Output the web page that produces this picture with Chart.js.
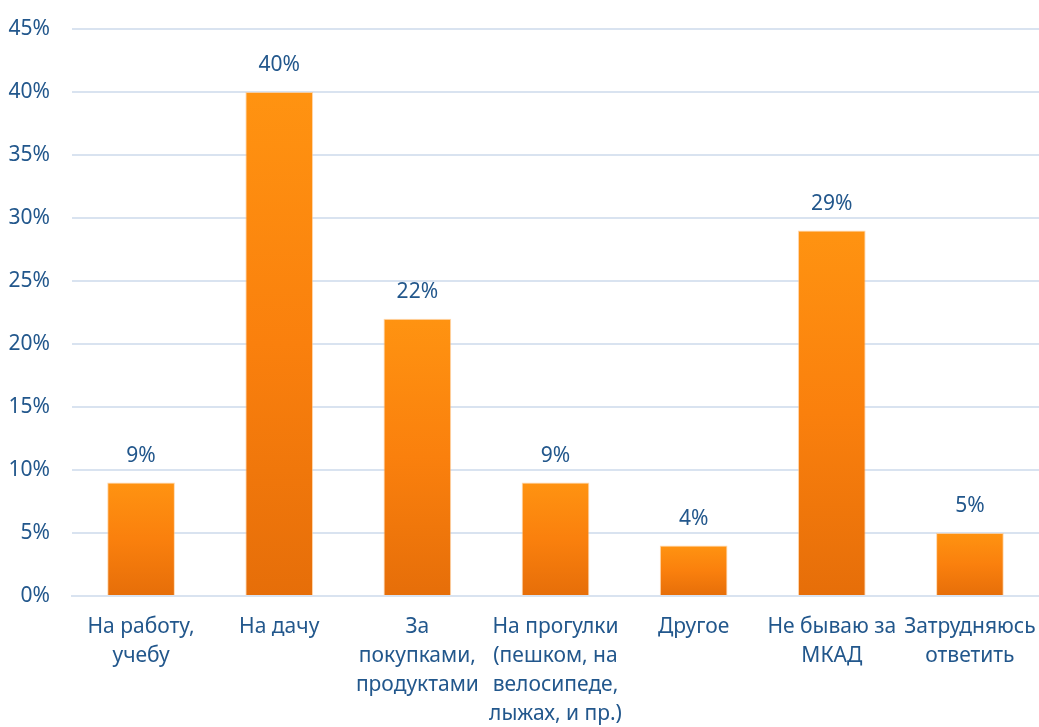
<!DOCTYPE html>
<html lang="ru">
<head>
  <meta charset="UTF-8">
  <title>Цели поездок</title>
  <script src="https://cdn.jsdelivr.net/npm/chart.js"></script>
  <style>
    html, body { margin: 0; padding: 0; background: #ffffff; }
    #wrap { width: 1039px; height: 727px; }
  </style>
</head>
<body>
  <div id="wrap"><canvas id="chart" width="1039" height="727"></canvas></div>

  <script>
    const categories = [
      ['На работу,', 'учебу'],
      ['На дачу'],
      ['За', 'покупками,', 'продуктами'],
      ['На прогулки', '(пешком, на', 'велосипеде,', 'лыжах, и пр.)'],
      ['Другое'],
      ['Не бываю за', 'МКАД'],
      ['Затрудняюсь', 'ответить']
    ];
    const values = [9, 40, 22, 9, 4, 29, 5];
    const yTicks = [0, 5, 10, 15, 20, 25, 30, 35, 40, 45];

    const textColor = '#22578c';
    const fontFamily = '"Noto Sans", "Open Sans", sans-serif';

    // вертикальный градиент для каждого столбца
    function barGradient(context) {
      const chart = context.chart;
      const y = chart.scales && chart.scales.y;
      if (!chart.chartArea || !y || context.parsed === undefined) return '#f7830f';
      const top = y.getPixelForValue(context.parsed.y);
      const base = y.getPixelForValue(0);
      const g = chart.ctx.createLinearGradient(0, top, 0, base);
      g.addColorStop(0, '#ff9311');
      g.addColorStop(0.5, '#fa800d');
      g.addColorStop(1, '#e66e09');
      return g;
    }

    // подписи значений над столбцами
    const valueLabels = {
      id: 'valueLabels',
      afterDatasetsDraw(chart) {
        const ctx = chart.ctx;
        const meta = chart.getDatasetMeta(0);
        ctx.save();
        ctx.fillStyle = textColor;
        ctx.font = '21px ' + fontFamily;
        ctx.textAlign = 'center';
        ctx.textBaseline = 'middle';
        meta.data.forEach((bar, i) => {
          ctx.fillText(values[i] + '%', bar.x, bar.y - 27);
        });
        ctx.restore();
      }
    };

    const ctx = document.getElementById('chart').getContext('2d');
    const chart = new Chart(ctx, {
      type: 'bar',
      data: {
        labels: categories,
        datasets: [{
          data: values,
          backgroundColor: barGradient,
          borderColor: 'rgba(255, 190, 120, 0.6)',
          borderWidth: 1,
          categoryPercentage: 1,
          barPercentage: 0.49
        }]
      },
      options: {
        responsive: false,
        animation: false,
        layout: { padding: { top: 29, right: 0, left: 0, bottom: 0 } },
        plugins: {
          legend: { display: false },
          tooltip: { enabled: false }
        },
        scales: {
          x: {
            grid: { display: false, drawTicks: false },
            border: { color: '#d9e3f0', width: 2 },
            afterFit(axis) {
              axis.height = 131;
              axis.paddingLeft = 0;
              axis.paddingRight = 0;
            },
            ticks: {
              color: textColor,
              font: { family: fontFamily, size: 21, lineHeight: 1.38 },
              maxRotation: 0,
              autoSkip: false,
              padding: 17
            }
          },
          y: {
            min: 0,
            max: 45,
            afterBuildTicks(axis) {
              axis.ticks = yTicks.map(v => ({ value: v }));
            },
            afterFit(axis) {
              axis.width = 72;
              axis.paddingTop = 0;
              axis.paddingBottom = 0;
            },
            grid: { color: '#d9e3f0', lineWidth: 2, drawTicks: false },
            border: { display: false },
            ticks: {
              color: textColor,
              font: { family: fontFamily, size: 21 },
              padding: 22,
              callback: v => v + '%'
            }
          }
        }
      },
      plugins: [valueLabels]
    });
  </script>
</body>
</html>
